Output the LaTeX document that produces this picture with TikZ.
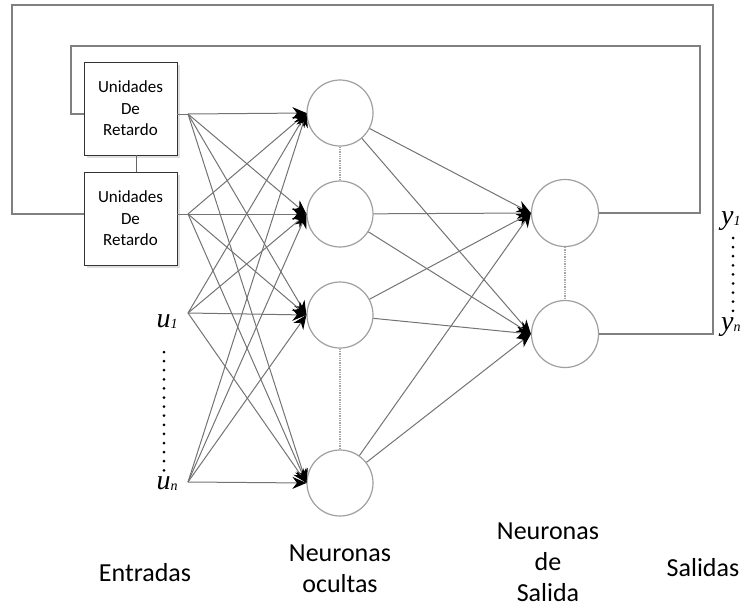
\documentclass[tikz,border=0pt]{standalone}
\usepackage{fontspec}
\setmainfont{Carlito}
\newfontfamily\varfont{Liberation Serif}
\usetikzlibrary{arrows.meta,shadows}

% small index set beside a variable name
\newcommand\idx[1]{\raisebox{-1pt}{\fontsize{14}{14}\selectfont\itshape #1}}

\begin{document}
\begin{tikzpicture}[x=1pt,y=-1pt,
  neuron/.style={circle,draw=gray!75,line width=1.2pt,fill=white,minimum size=66pt,inner sep=0pt},
  delaybox/.style={draw=black!80,line width=0.9pt,fill=white,minimum width=93pt,minimum height=93pt,
    align=center,inner sep=0pt,font=\fontsize{17}{21.5}\selectfont,
    drop shadow={shadow xshift=2.5pt,shadow yshift=-2.5pt,opacity=0.25,fill=gray}},
  link/.style={draw=black!55,line width=1pt},
  arrowlink/.style={link,-{Stealth[length=14pt,width=12pt,black]}},
  feedback/.style={draw=black!50,line width=1.2pt},
  neurondots/.style={draw=gray!70,line width=2.2pt,dash pattern=on 1.3pt off 1pt},
  vardots/.style={draw=black,line width=3pt,line cap=round,dash pattern=on 0pt off 9.1pt},
  varlabel/.style={font=\varfont\fontsize{28}{28}\selectfont\itshape,inner sep=0pt},
  caption/.style={align=center,font=\fontsize{26}{31}\selectfont,inner sep=0pt}
]
\useasboundingbox (0,0) rectangle (742,608);

% neurons
\node[neuron] (h1) at (340,113) {};
\node[neuron] (h2) at (340,214) {};
\node[neuron] (h3) at (340,315) {};
\node[neuron] (h4) at (340,483) {};
\node[neuron,minimum size=67pt] (o1) at (565,213) {};
\node[neuron,minimum size=67pt] (o2) at (565,334) {};

% delay units
\node[delaybox] (d1) at (130.5,108.5) {Unidades\\De\\Retardo};
\node[delaybox] (d2) at (130.5,218.5) {Unidades\\De\\Retardo};
\draw[draw=black!60,line width=0.9pt] ([xshift=5.5pt]d1.south) -- ([xshift=5.5pt]d2.north);

% input fan-out points
\coordinate (f1) at (188,114);
\coordinate (f2) at (188,214);
\coordinate (f3) at (188,313);
\coordinate (f4) at (188,482);
\draw[link] (d1.east |- f1) -- (f1);
\draw[link] (d2.east |- f2) -- (f2);

% input layer to hidden layer
\foreach \i in {1,...,4}
  \foreach \j in {1,...,4}
    \draw[arrowlink] (f\i) -- (h\j.west);

% hidden layer to output layer
\foreach \j in {1,...,4}
  \foreach \k in {1,2}
    \draw[arrowlink] (h\j) -- (o\k.west);

% elided neurons
\draw[neurondots] (h1.south) -- (h2.north);
\draw[neurondots] (h3.south) -- (h4.north);
\draw[neurondots] (o1.south) -- (o2.north);

% feedback loops
\coordinate (a1) at (700,46);
\coordinate (a2) at (71,114);
\draw[feedback] (o1.east) -- (o1.east -| a1) -- (a1) -- (a1 -| a2) -- (a2) -- (d1.west |- a2);
\coordinate (b1) at (713,5);
\coordinate (b2) at (12,214);
\draw[feedback] (o2.east) -- (o2.east -| b1) -- (b1) -- (b1 -| b2) -- (b2) -- (d2.west |- b2);

% input and output variables
\node[varlabel] (u1) at (167,322) {u\idx{1}};
\node[varlabel] (un) at (167,484) {u\idx{n}};
\draw[vardots] (164,352) -- (164,471);
\node[varlabel,anchor=west] (y1) at (721,221) {y\idx{1}};
\node[varlabel,anchor=west] (yn) at (721,327) {y\idx{n}};
\draw[vardots] (733,238) -- (733,313);

% layer captions
\node[caption] (cin) at (145,573) {Entradas};
\node[caption] (chid) at (340,569) {Neuronas\\ocultas};
\node[caption] (cout) at (548,562) {Neuronas\\de\\Salida};
\node[caption] (cres) at (703,568) {Salidas};
\end{tikzpicture}
\end{document}
